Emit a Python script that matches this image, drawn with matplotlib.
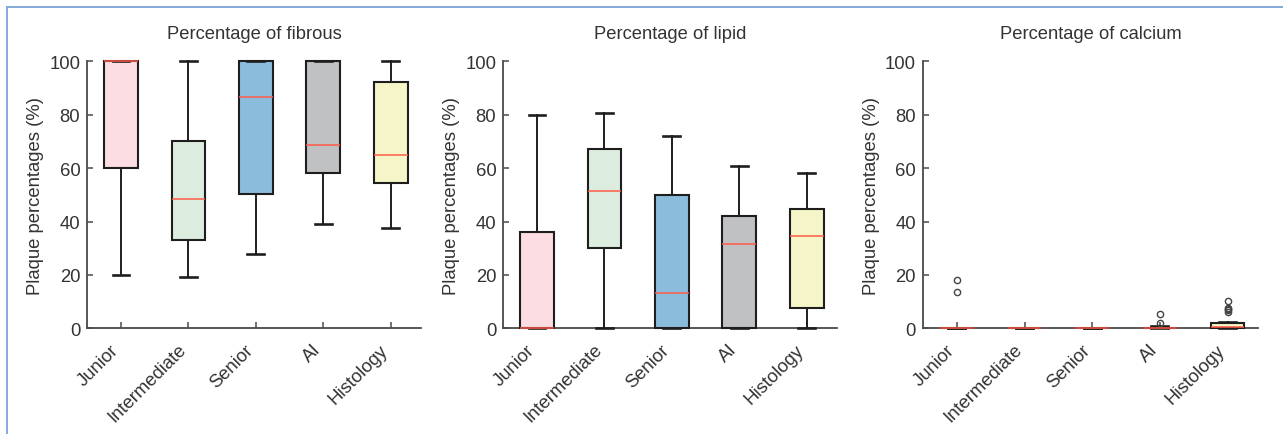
import matplotlib
matplotlib.use("Agg")
import matplotlib.pyplot as plt
from matplotlib.lines import Line2D
import matplotlib.transforms as mtransforms
import numpy as np

plt.rcParams['font.family'] = ['Liberation Sans', 'DejaVu Sans']

categories = ["Junior", "Intermediate", "Senior", "AI", "Histology"]
box_colors = ["#fcdde1", "#dcecde", "#8cbcdc", "#c0c1c3", "#f5f5c8"]

titles = ["Percentage of fibrous", "Percentage of lipid", "Percentage of calcium"]

# fibrous
fib_whislo = [20, 19.4, 28, 39, 37.6]
fib_q1 = [60, 33, 50.2, 58, 54.4]
fib_med = [100, 48.4, 86.6, 68.7, 65]
fib_q3 = [100, 70, 100, 100, 92.4]
fib_whishi = [100, 100, 100, 100, 100]
fib_fliers = [[], [], [], [], []]

# lipid
lip_whislo = [0, 0, 0, 0, 0]
lip_q1 = [0, 30, 0, 0, 7.6]
lip_med = [0, 51.5, 13.4, 31.5, 34.4]
lip_q3 = [36.2, 67.1, 49.9, 42.1, 44.5]
lip_whishi = [79.8, 80.8, 72, 60.8, 58]
lip_fliers = [[], [], [], [], []]

# calcium
cal_whislo = [0, 0, 0, 0, 0]
cal_q1 = [0, 0, 0, 0, 0]
cal_med = [0, 0, 0, 0, 0.4]
cal_q3 = [0, 0, 0, 0, 2]
cal_whishi = [0, 0, 0, 1, 2.5]
cal_fliers = [[13.7, 18], [], [], [2, 5.2], [6.2, 6.8, 7.2, 7.6, 10.2]]

panels = [
    (fib_whislo, fib_q1, fib_med, fib_q3, fib_whishi, fib_fliers),
    (lip_whislo, lip_q1, lip_med, lip_q3, lip_whishi, lip_fliers),
    (cal_whislo, cal_q1, cal_med, cal_q3, cal_whishi, cal_fliers),
]

W, H = 1283, 435
fig = plt.figure(figsize=(W / 100, H / 100), dpi=100)

lefts = [87.3, 503.3, 923]
rights = [421, 837, 1258]
top_px, bot_px = 62.3, 329.3

text_col = "#333333"
spine_col = "#4a4a4a"

for i, (wl, q1, md, q3, wh, fl) in enumerate(panels):
    ax = fig.add_axes([lefts[i] / W, 1 - bot_px / H,
                       (rights[i] - lefts[i]) / W, (bot_px - top_px) / H])
    stats = []
    for j, cat in enumerate(categories):
        stats.append(dict(label=cat, whislo=wl[j], q1=q1[j], med=md[j],
                          q3=q3[j], whishi=wh[j], fliers=fl[j]))
    positions = np.arange(1, len(categories) + 1)
    bp = ax.bxp(stats, positions=positions, widths=0.5, patch_artist=True,
                showfliers=True,
                boxprops=dict(edgecolor="#1e1e1e", linewidth=1.5),
                whiskerprops=dict(color="#1e1e1e", linewidth=1.4),
                capprops=dict(color="#1e1e1e", linewidth=1.9),
                medianprops=dict(color="#ff5a48", linewidth=1.1),
                flierprops=dict(marker="o", markersize=4.5, markerfacecolor="none",
                                markeredgecolor="#444444", markeredgewidth=1.0))
    for patch, c in zip(bp["boxes"], box_colors):
        patch.set_facecolor(c)
    for key in ["boxes", "whiskers", "caps", "fliers"]:
        for a in bp[key]:
            a.set_zorder(3)
            a.set_clip_on(False)
    for a in bp["medians"]:
        a.set_zorder(4)
        a.set_clip_on(False)

    ax.set_xlim(0.5, 5.45)
    ax.set_ylim(0, 100)
    ax.set_yticks([0, 20, 40, 60, 80, 100])
    ax.set_xticks(positions)
    for s in ["top", "right"]:
        ax.spines[s].set_visible(False)
    for s in ["left", "bottom"]:
        ax.spines[s].set_color(spine_col)
        ax.spines[s].set_linewidth(1.3)
    ax.tick_params(axis="both", direction="in", length=4.5, width=1.1,
                   color=spine_col, labelsize=13.3, labelcolor=text_col)
    ax.tick_params(axis="y", pad=5)
    ax.tick_params(axis="x", pad=9)
    ax.set_xticklabels(categories, rotation=45, ha="right",
                       rotation_mode="anchor")
    shift = mtransforms.ScaledTranslation(-11 / 100, 0, fig.dpi_scale_trans)
    for lab in ax.get_xticklabels():
        lab.set_transform(lab.get_transform() + shift)
    ax.set_ylabel("Plaque percentages (%)", fontsize=13.3, color=text_col,
                  labelpad=4)
    ax.set_title(titles[i], fontsize=13.2, color=text_col, pad=17)

# light blue frame (top and left edges)
fig.add_artist(Line2D([7 / W, 7 / W], [0, 1 - 8 / H], transform=fig.transFigure,
                      color="#86a9dc", linewidth=1.4))
fig.add_artist(Line2D([7 / W, 1], [1 - 8 / H, 1 - 8 / H], transform=fig.transFigure,
                      color="#86a9dc", linewidth=1.4))

fig.savefig("out.png", dpi=100)
